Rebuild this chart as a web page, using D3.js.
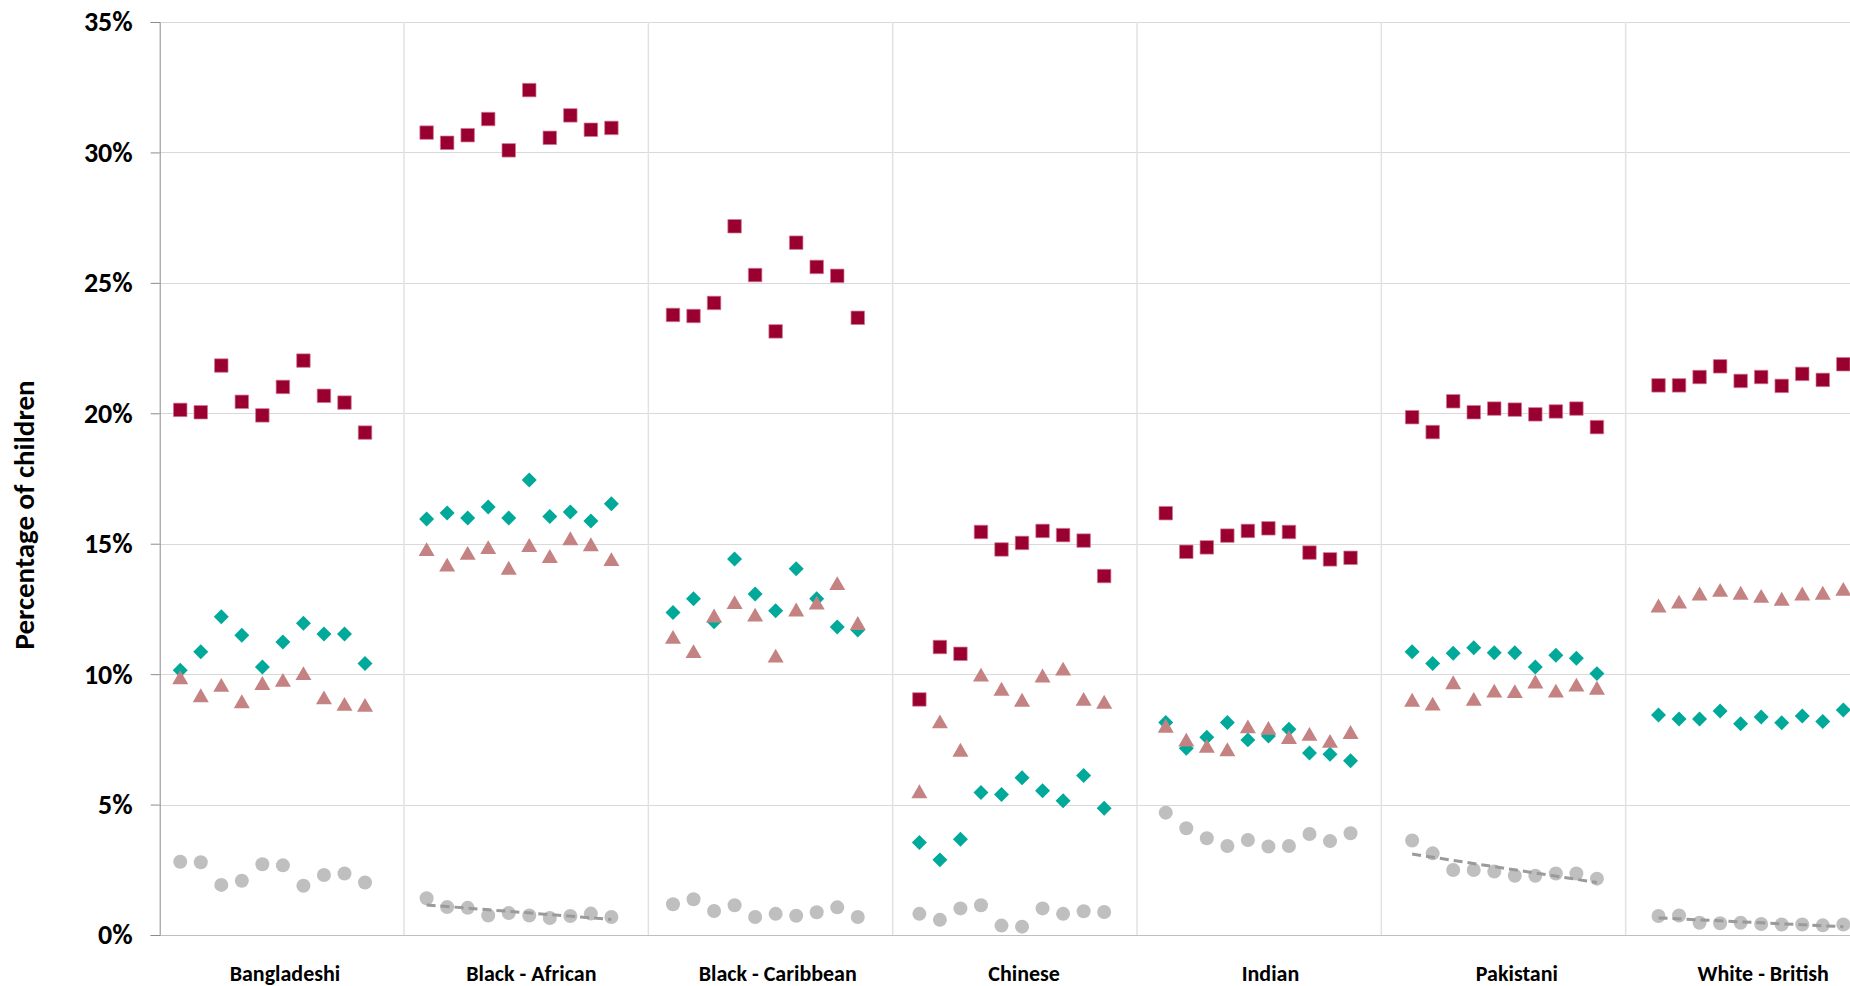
<!DOCTYPE html>
<html>
<head>
<meta charset="utf-8">
<script src="https://cdn.jsdelivr.net/npm/d3@7"></script>
<style>
  html, body { margin: 0; padding: 0; background: #ffffff; }
  svg { display: block; }
  text { font-family: Carlito, Calibri, Lato, "Open Sans", sans-serif; font-weight: bold; fill: #000; }
</style>
</head>
<body>
<svg id="chart" width="1850" height="986"></svg>
<script>
// ---------------- DATA ----------------
const categories = ["Bangladeshi", "Black - African", "Black - Caribbean", "Chinese", "Indian", "Pakistani", "White - British"];
const yTicks = [0, 5, 10, 15, 20, 25, 30, 35];
const yTitle = "Percentage of children";

// dark red squares (one row of 10 yearly values per category)
const squareSeries = [
  [20.13, 20.04, 21.83, 20.44, 19.92, 21.01, 22.02, 20.67, 20.41, 19.26],
  [30.76, 30.37, 30.66, 31.28, 30.08, 32.39, 30.56, 31.42, 30.87, 30.94],
  [23.77, 23.73, 24.23, 27.17, 25.30, 23.14, 26.54, 25.61, 25.27, 23.66],
  [9.03, 11.04, 10.78, 15.45, 14.78, 15.03, 15.49, 15.33, 15.12, 13.76],
  [16.17, 14.69, 14.86, 15.31, 15.49, 15.59, 15.45, 14.66, 14.40, 14.46],
  [19.85, 19.28, 20.46, 20.04, 20.18, 20.14, 19.96, 20.07, 20.18, 19.47],
  [21.07, 21.07, 21.39, 21.80, 21.24, 21.39, 21.05, 21.51, 21.28, 21.88]
];
// teal diamonds
const diamondSeries = [
  [10.15, 10.86, 12.20, 11.49, 10.27, 11.23, 11.95, 11.54, 11.54, 10.41],
  [15.95, 16.18, 15.99, 16.41, 15.99, 17.44, 16.04, 16.22, 15.87, 16.53],
  [12.36, 12.89, 12.01, 14.41, 13.07, 12.43, 14.04, 12.89, 11.81, 11.69],
  [3.55, 2.88, 3.67, 5.46, 5.39, 6.03, 5.53, 5.15, 6.11, 4.86],
  [8.15, 7.16, 7.58, 8.15, 7.48, 7.63, 7.89, 6.98, 6.93, 6.68],
  [10.86, 10.41, 10.80, 11.01, 10.82, 10.82, 10.27, 10.72, 10.61, 10.02],
  [8.43, 8.28, 8.28, 8.59, 8.10, 8.36, 8.14, 8.40, 8.18, 8.63]
];
// rose triangles
const triangleSeries = [
  [9.88, 9.19, 9.59, 8.96, 9.66, 9.78, 10.04, 9.11, 8.86, 8.82],
  [14.79, 14.20, 14.65, 14.87, 14.08, 14.95, 14.53, 15.21, 14.98, 14.41],
  [11.43, 10.88, 12.25, 12.76, 12.28, 10.71, 12.48, 12.74, 13.49, 11.96],
  [5.51, 8.19, 7.10, 9.98, 9.44, 9.02, 9.95, 10.21, 9.05, 8.94],
  [8.02, 7.49, 7.25, 7.12, 8.00, 7.94, 7.59, 7.71, 7.44, 7.78],
  [9.02, 8.87, 9.69, 9.05, 9.37, 9.35, 9.72, 9.37, 9.60, 9.48],
  [12.63, 12.78, 13.09, 13.23, 13.12, 13.00, 12.89, 13.09, 13.12, 13.27]
];
// grey circles
const circleSeries = [
  [2.81, 2.79, 1.92, 2.08, 2.71, 2.67, 1.89, 2.30, 2.36, 2.01],
  [1.41, 1.07, 1.04, 0.75, 0.84, 0.75, 0.65, 0.73, 0.82, 0.69],
  [1.18, 1.37, 0.92, 1.14, 0.69, 0.81, 0.74, 0.87, 1.06, 0.69],
  [0.81, 0.58, 1.02, 1.14, 0.36, 0.32, 1.02, 0.81, 0.91, 0.88],
  [4.69, 4.09, 3.71, 3.41, 3.64, 3.39, 3.41, 3.87, 3.60, 3.90],
  [3.62, 3.13, 2.49, 2.49, 2.43, 2.27, 2.27, 2.36, 2.36, 2.16],
  [0.73, 0.75, 0.47, 0.45, 0.47, 0.42, 0.40, 0.40, 0.37, 0.40]
];
// categories whose grey series carries a linear trend line
const trendCategories = ["Black - African", "Pakistani", "White - British"];

// ---------------- LAYOUT ----------------
const svg = d3.select("#chart");
const W = 1850;
const plotLeft = 159.7, plotTop = 22, plotBottom = 935;
const slotsPerGroup = 12;       // 10 points + 2 spacing slots per category
const groupStride = 11.9;       // spacing of category separators, in slot units

const x = d3.scaleLinear().domain([-1, 82.3]).range([plotLeft, 1870]);
const y = d3.scaleLinear().domain([0, 35]).range([plotBottom, plotTop]);

const pos = (gi, j) => gi * slotsPerGroup + j;

// horizontal gridlines
svg.append("g").selectAll("line").data(yTicks.filter(t => t > 0)).join("line")
  .attr("x1", plotLeft).attr("x2", W)
  .attr("y1", d => Math.round(y(d)) + 0.5).attr("y2", d => Math.round(y(d)) + 0.5)
  .attr("stroke", "#d9d9d9").attr("stroke-width", 1);

// vertical category separators
svg.append("g").selectAll("line").data(d3.range(1, categories.length + 1)).join("line")
  .attr("x1", k => x(-1 + k * groupStride)).attr("x2", k => x(-1 + k * groupStride))
  .attr("y1", plotTop).attr("y2", plotBottom)
  .attr("stroke", "#e2e2e2").attr("stroke-width", 1.5);

// bottom axis line
svg.append("line")
  .attr("x1", plotLeft - 9).attr("x2", W)
  .attr("y1", Math.round(y(0)) + 0.5).attr("y2", Math.round(y(0)) + 0.5)
  .attr("stroke", "#bfbfbf").attr("stroke-width", 1.2);

// y axis
const yAxis = d3.axisLeft(y).tickValues(yTicks).tickSize(9).tickPadding(18)
  .tickFormat(d => d + "%");
const gy = svg.append("g").attr("transform", `translate(${plotLeft},0)`).call(yAxis);
gy.select(".domain").attr("stroke", "#8c8c8c");
gy.selectAll(".tick line").attr("stroke", "#8c8c8c");
gy.selectAll(".tick text")
  .style("font-size", "28px").style("font-weight", "bold")
  .attr("fill", "#000");

// y title
svg.append("text")
  .attr("transform", `translate(34,515) rotate(-90)`)
  .attr("text-anchor", "middle")
  .style("font-size", "29px")
  .text(yTitle);

// category labels
svg.append("g").selectAll("text").data(categories).join("text")
  .attr("x", (d, i) => x(pos(i, 5.1)))
  .attr("y", 981)
  .attr("text-anchor", "middle")
  .style("font-size", "22px")
  .text(d => d);

// flatten helper
const flat = series => series.flatMap((row, gi) => row.map((v, j) => ({ gi, j, v })));

// trend lines (least squares fit of each selected grey series)
const trendData = categories.map((c, gi) => ({ c, gi })).filter(d => trendCategories.includes(d.c)).map(d => {
  const vals = circleSeries[d.gi];
  const xs = d3.range(vals.length);
  const mx = d3.mean(xs), my = d3.mean(vals);
  const b = d3.sum(xs, (xx, k) => (xx - mx) * (vals[k] - my)) / d3.sum(xs, xx => (xx - mx) ** 2);
  const a = my - b * mx;
  return { gi: d.gi, pts: [0, vals.length - 1].map(j => [j, a + b * j]) };
});

// markers: circles
svg.append("g").selectAll("path").data(flat(circleSeries)).join("path")
  .attr("d", d3.symbol(d3.symbolCircle, Math.PI * 7 * 7))
  .attr("transform", d => `translate(${x(pos(d.gi, d.j))},${y(d.v)})`)
  .attr("fill", "#bfbfbf");

// trend lines on top of circles
const line = d3.line().x(p => p[0]).y(p => p[1]);
svg.append("g").selectAll("path").data(trendData).join("path")
  .attr("d", d => line(d.pts.map(p => [x(pos(d.gi, p[0])), y(p[1])])))
  .attr("fill", "none").attr("stroke", "#9a9a9a").attr("stroke-width", 3)
  .attr("stroke-dasharray", "9,5");

// diamonds
const dSide = 10.6;
svg.append("g").selectAll("path").data(flat(diamondSeries)).join("path")
  .attr("d", d3.symbol(d3.symbolSquare, dSide * dSide))
  .attr("transform", d => `translate(${x(pos(d.gi, d.j))},${y(d.v)}) rotate(45)`)
  .attr("fill", "#00a99a");

// triangles (bounding box centred on value)
const triSide = 16, triH = triSide * Math.sqrt(3) / 2;
svg.append("g").selectAll("path").data(flat(triangleSeries)).join("path")
  .attr("d", d3.symbol(d3.symbolTriangle, Math.sqrt(3) / 4 * triSide * triSide))
  .attr("transform", d => `translate(${x(pos(d.gi, d.j))},${y(d.v) + triH / 6})`)
  .attr("fill", "#c48282");

// squares
svg.append("g").selectAll("path").data(flat(squareSeries)).join("path")
  .attr("d", d3.symbol(d3.symbolSquare, 13.5 * 13.5))
  .attr("transform", d => `translate(${x(pos(d.gi, d.j))},${y(d.v)})`)
  .attr("fill", "#990030").attr("stroke", "#d27a95").attr("stroke-width", 0.7);
</script>
</body>
</html>
